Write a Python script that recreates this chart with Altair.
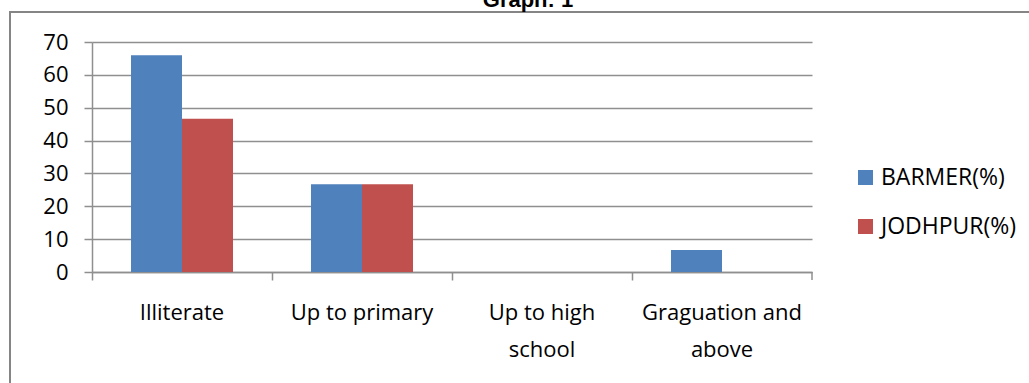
import altair as alt
import pandas as pd

# Education level by district, percent of respondents
categories = ["Illiterate", "Up to primary", "Up to high school", "Graguation and above"]
series = ["BARMER(%)", "JODHPUR(%)"]
barmer = [66, 26.67, 0, 6.67]
jodhpur = [46.67, 26.67, 0, 0]
colors = ["#4F81BD", "#C0504D"]
y_ticks = [0, 10, 20, 30, 40, 50, 60, 70]

rows = []
for cat, b, j in zip(categories, barmer, jodhpur):
    rows.append({"level": cat, "district": series[0], "value": b})
    rows.append({"level": cat, "district": series[1], "value": j})
df = pd.DataFrame(rows)

FONT = "Open Sans"
GRID = "#8f8f8f"

# full-width category bands; the bar pair is narrowed through the offset scale
x_scale = alt.Scale(paddingInner=0, paddingOuter=0)

x_enc = alt.X(
    "level:N",
    sort=categories,
    scale=x_scale,
    axis=alt.Axis(
        title=None,
        bandPosition=0,
        labelAngle=0,
        labelFont=FONT,
        labelFontSize=22,
        labelColor="#000000",
        labelBaseline="top",
        labelPadding=22,
        labelLineHeight=37,
        labelExpr=(
            "datum.label == 'Up to high school' ? ['Up to high', 'school'] : "
            "datum.label == 'Graguation and above' ? ['Graguation and', 'above'] : datum.label"
        ),
        tickSize=8,
        tickColor=GRID,
        tickWidth=1.5,
        domainColor=GRID,
        domainWidth=1.5,
        grid=False,
    ),
)

bars = alt.Chart(df).mark_bar().encode(
    x=x_enc,
    xOffset=alt.XOffset(
        "district:N", sort=series, scale=alt.Scale(paddingInner=0, paddingOuter=0.7647)
    ),
    y=alt.Y(
        "value:Q",
        scale=alt.Scale(domain=[0, 70], nice=False),
        axis=alt.Axis(
            title=None,
            values=y_ticks,
            labelFont=FONT,
            labelFontSize=22,
            labelColor="#000000",
            labelPadding=16,
            tickSize=8,
            tickColor=GRID,
            tickWidth=1.5,
            domainColor=GRID,
            domainWidth=1.5,
            gridColor=GRID,
            gridWidth=1.5,
        ),
    ),
    color=alt.Color(
        "district:N",
        sort=series,
        scale=alt.Scale(domain=series, range=colors),
        legend=alt.Legend(
            title=None,
            orient="none",
            legendX=762,
            legendY=124,
            symbolType="square",
            symbolSize=225,
            symbolStrokeWidth=0,
            labelFont=FONT,
            labelFontSize=23,
            labelColor="#000000",
            labelOffset=4,
            rowPadding=25,
            padding=0,
        ),
    ),
)

# closing tick at the right end of the category axis
end_tick = alt.Chart(pd.DataFrame({"level": [categories[-1]]})).mark_rule(
    color=GRID, strokeWidth=1.5
).encode(
    x=alt.X("level:N", sort=categories, scale=x_scale, bandPosition=1),
    y=alt.value(230),
    y2=alt.value(238),
)

title = alt.Chart(pd.DataFrame({"t": ["Graph: 1"]})).mark_text(
    font="Liberation Sans", fontWeight="bold", fontSize=22, align="center", baseline="alphabetic"
).encode(text="t:N", x=alt.value(436), y=alt.value(-35))

frame = alt.Chart(pd.DataFrame({"f": [0]})).mark_rect(
    fill=None, fillOpacity=0, stroke="#858585", strokeWidth=2
).encode(
    x=alt.value(-82), x2=alt.value(960), y=alt.value(-30), y2=alt.value(360)
)

chart = (
    alt.layer(frame, bars, end_tick, title)
    .properties(
        width=720,
        height=230,
        autosize=alt.AutoSizeParams(type="none"),
        padding={"left": 92, "top": 42, "right": 217, "bottom": 111},
        background="#ffffff",
    )
    .configure_view(stroke=None)
)

chart.save("out.html", embed_options={"renderer": "svg", "actions": False})
